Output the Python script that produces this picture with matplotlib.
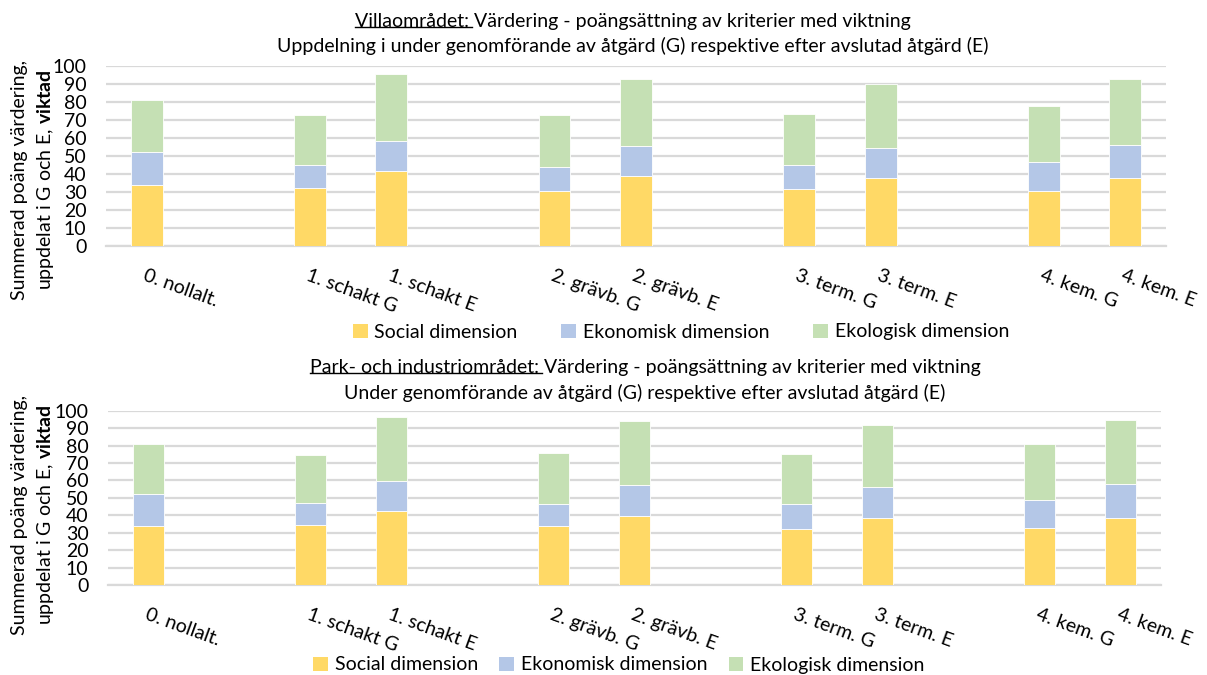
import numpy as np
import matplotlib
matplotlib.use("Agg")
import matplotlib.pyplot as plt
from matplotlib.patches import Patch
from matplotlib.lines import Line2D

plt.rcParams["font.family"] = ["Lato", "DejaVu Sans"]
plt.rcParams["mathtext.fontset"] = "custom"
plt.rcParams["mathtext.rm"] = "Lato"
plt.rcParams["mathtext.bf"] = "Lato:bold"

# Category axis, with empty slots separating the alternatives
categories = ["0. nollalt.", "", "1. schakt G", "1. schakt E", "",
              "2. grävb. G", "2. grävb. E", "", "3. term. G", "3. term. E", "",
              "4. kem. G", "4. kem. E"]
nan = np.nan

# Villaområdet
villa_social = [34.0, nan, 32.2, 41.5, nan, 30.4, 39.1, nan, 31.7, 38.0, nan, 30.7, 38.0]
villa_ekonomisk = [18.0, nan, 13.0, 16.6, nan, 13.3, 16.3, nan, 13.5, 16.3, nan, 15.8, 18.3]
villa_ekologisk = [29.1, nan, 27.6, 37.3, nan, 28.9, 37.4, nan, 28.3, 35.5, nan, 31.1, 36.3]

# Park- och industriområdet
park_social = [34.0, nan, 34.4, 42.4, nan, 33.6, 39.7, nan, 32.3, 38.5, nan, 32.6, 38.5]
park_ekonomisk = [18.1, nan, 12.9, 17.3, nan, 13.0, 17.9, nan, 14.1, 18.0, nan, 15.9, 19.7]
park_ekologisk = [28.8, nan, 27.5, 36.9, nan, 29.2, 36.5, nan, 28.8, 35.3, nan, 32.2, 36.5]

series_names = ["Social dimension", "Ekonomisk dimension", "Ekologisk dimension"]
colors = ["#FFD966", "#B4C7E7", "#C5E0B4"]
grid_color = "#D9D9D9"

W, H = 1207, 675
fig = plt.figure(figsize=(W / 100, H / 100), dpi=100)

FS_TICK = 14
FS_TITLE = 14
FS_LEG = 14


def px(x, y):
    return x / W, 1 - y / H


def draw_panel(rect, social, ekonomisk, ekologisk):
    ax = fig.add_axes(rect)
    x = np.arange(len(categories))
    s = np.array(social, dtype=float)
    e = np.array(ekonomisk, dtype=float)
    k = np.array(ekologisk, dtype=float)
    kw = dict(width=0.39, edgecolor="white", linewidth=0.6, zorder=3)
    ax.bar(x, s, color=colors[0], label=series_names[0], **kw)
    ax.bar(x, e, bottom=s, color=colors[1], label=series_names[1], **kw)
    ax.bar(x, k, bottom=s + e, color=colors[2], label=series_names[2], **kw)
    ax.set_xlim(-0.5, len(categories) - 0.5)
    ax.set_ylim(0, 100)
    ax.set_yticks(np.arange(0, 101, 10))
    ax.yaxis.grid(True, color=grid_color, linewidth=1.6, zorder=0)
    ax.set_axisbelow(True)
    for sp in ("top", "right", "left"):
        ax.spines[sp].set_visible(False)
    ax.spines["bottom"].set_color(grid_color)
    ax.spines["bottom"].set_linewidth(1.6)
    ax.tick_params(axis="y", length=0, pad=14, labelsize=FS_TICK)
    ax.tick_params(axis="x", length=0, pad=15, labelsize=FS_TICK)
    ax.set_xticks(x)
    ax.set_xticklabels(categories, rotation=-20, ha="left", va="top",
                       rotation_mode="anchor")
    return ax


def y_label(xc1, xc2, yc):
    fig.text(xc1 / W, 1 - yc / H, "Summerad poäng värdering,", rotation=90,
             ha="center", va="center", fontsize=FS_TICK)
    fig.text(xc2 / W, 1 - yc / H, r"uppdelat i G och E, $\mathbf{viktad}$",
             rotation=90, ha="center", va="center", fontsize=FS_TICK)


def title(xc, y1, y2, under, rest, line2):
    t = fig.text(xc / W, 1 - y1 / H, under + rest, ha="center", va="center",
                 fontsize=FS_TITLE)
    fig.text(xc / W, 1 - y2 / H, line2, ha="center", va="center", fontsize=FS_TITLE)
    fig.canvas.draw()
    r = fig.canvas.get_renderer()
    bb = t.get_window_extent(r)
    tmp = fig.text(0, 0, under, fontsize=FS_TITLE)
    w = tmp.get_window_extent(r).width
    tmp.remove()
    yline = bb.y0 + 0.17 * bb.height
    fig.add_artist(Line2D([bb.x0 / W, (bb.x0 + w + 3) / W], [yline / H, yline / H],
                          color="black", linewidth=1.0, transform=fig.transFigure))


def legend(xc, yc, spacing):
    handles = [Patch(facecolor=c, edgecolor="none") for c in colors]
    fig.legend(handles, series_names, loc="center", bbox_to_anchor=px(xc, yc),
               ncol=3, frameon=False, fontsize=FS_LEG, handlelength=0.75,
               handleheight=0.75, handletextpad=0.35, columnspacing=spacing,
               borderaxespad=0, borderpad=0)


ax1 = draw_panel([106 / W, 1 - 246 / H, (1166 - 106) / W, 180 / H],
                 villa_social, villa_ekonomisk, villa_ekologisk)
ax2 = draw_panel([108 / W, 1 - 585 / H, (1161 - 108) / W, 174.3 / H],
                 park_social, park_ekonomisk, park_ekologisk)

y_label(20, 46, 180)
y_label(20, 46, 515)

legend(681, 332, 2.25)
legend(619, 665, 1.1)

title(633, 21, 46, "Villaområdet:",
      " Värdering - poängsättning av kriterier med viktning",
      "Uppdelning i under genomförande av åtgärd (G) respektive efter avslutad åtgärd (E)")
title(645, 367, 393, "Park- och industriområdet:",
      " Värdering - poängsättning av kriterier med viktning",
      "Under genomförande av åtgärd (G) respektive efter avslutad åtgärd (E)")

fig.savefig("out.png", dpi=100)
